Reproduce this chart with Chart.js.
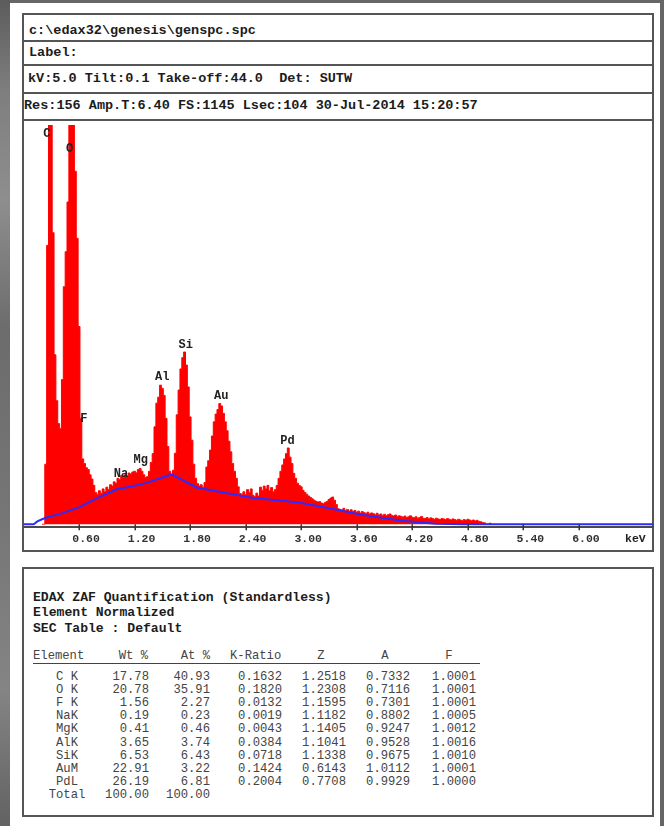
<!DOCTYPE html>
<html>
<head>
<meta charset="utf-8">
<script src="https://cdn.jsdelivr.net/npm/chart.js@4.4.1/dist/chart.umd.min.js"></script>
<style>
  html, body { margin: 0; padding: 0; }
  body { width: 664px; height: 826px; position: relative; overflow: hidden; background: #666; font-family: "Liberation Mono", monospace; }
  #edge { position: absolute; left: 0; top: 0; width: 10px; height: 826px;
    background: linear-gradient(180deg, #5c5c5c 0, #7e7e7e 90px, #8e8e8e 200px, #6c6c6c 330px, #767676 520px, #848484 690px, #626262 826px); }
  #sheet { position: absolute; left: 10px; top: 3px; width: 650px; height: 823px; background: #fff; }
  .box { position: absolute; border: 2px solid #555; box-sizing: border-box; }
  .rule { position: absolute; left: 22px; width: 632px; height: 2px; background: #555; }
  .hd { position: absolute; font-weight: bold; font-size: 13.5px; line-height: 16px; color: #1c1c1c; white-space: pre; }
  .ttl { position: absolute; left: 33px; font-weight: bold; font-size: 13.1px; line-height: 15px; color: #1c1c1c; white-space: pre; }
  .cell { position: absolute; font-size: 12.2px; line-height: 13px; color: #444; white-space: pre; }
  #plot { position: absolute; left: 22px; top: 120px; width: 632px; height: 431px; z-index: 2; }
  #unit { position: absolute; left: 625px; top: 532px; font-weight: bold; font-size: 11.5px; line-height: 14px; color: #222; z-index: 3; }
</style>
</head>
<body>
<div id="edge"></div>
<div id="sheet"></div>

<div class="box" style="left:22px;top:13px;width:632px;height:539px;"></div>
<div class="rule" style="top:40px;"></div>
<div class="rule" style="top:64px;"></div>
<div class="rule" style="top:92px;"></div>
<div class="rule" style="top:119px;"></div>

<div class="hd" style="left:29px;top:23px;">c:\edax32\genesis\genspc.spc</div>
<div class="hd" style="left:29px;top:45px;">Label:</div>
<div class="hd" style="left:28px;top:71px;">kV:5.0 Tilt:0.1 Take-off:44.0  Det: SUTW</div>
<div class="hd" style="left:24px;top:98px;">Res:156 Amp.T:6.40 FS:1145 Lsec:104 30-Jul-2014 15:20:57</div>

<div id="plot"><canvas id="spc"></canvas></div>
<div id="unit">keV</div>

<div class="box" style="left:22px;top:567px;width:632px;height:250px;"></div>
<div class="ttl" style="top:590px;">EDAX ZAF Quantification (Standardless)</div>
<div class="ttl" style="top:605px;">Element Normalized</div>
<div class="ttl" style="top:621px;">SEC Table : Default</div>
<div id="table"></div>

<script>
// Spectrum channels (keV) and measured counts
const channelKeV = [
  0.20,0.22,0.24,0.26,0.28,0.30,0.32,0.34,0.36,0.38,
  0.40,0.42,0.44,0.46,0.48,0.50,0.52,0.54,0.56,0.58,
  0.60,0.62,0.64,0.66,0.68,0.70,0.72,0.74,0.76,0.78,
  0.80,0.82,0.84,0.86,0.88,0.90,0.92,0.94,0.96,0.98,
  1.00,1.02,1.04,1.06,1.08,1.10,1.12,1.14,1.16,1.18,
  1.20,1.22,1.24,1.26,1.28,1.30,1.32,1.34,1.36,1.38,
  1.40,1.42,1.44,1.46,1.48,1.50,1.52,1.54,1.56,1.58,
  1.60,1.62,1.64,1.66,1.68,1.70,1.72,1.74,1.76,1.78,
  1.80,1.82,1.84,1.86,1.88,1.90,1.92,1.94,1.96,1.98,
  2.00,2.02,2.04,2.06,2.08,2.10,2.12,2.14,2.16,2.18,
  2.20,2.22,2.24,2.26,2.28,2.30,2.32,2.34,2.36,2.38,
  2.40,2.42,2.44,2.46,2.48,2.50,2.52,2.54,2.56,2.58,
  2.60,2.62,2.64,2.66,2.68,2.70,2.72,2.74,2.76,2.78,
  2.80,2.82,2.84,2.86,2.88,2.90,2.92,2.94,2.96,2.98,
  3.00,3.02,3.04,3.06,3.08,3.10,3.12,3.14,3.16,3.18,
  3.20,3.22,3.24,3.26,3.28,3.30,3.32,3.34,3.36,3.38,
  3.40,3.42,3.44,3.46,3.48,3.50,3.52,3.54,3.56,3.58,
  3.60,3.62,3.64,3.66,3.68,3.70,3.72,3.74,3.76,3.78,
  3.80,3.82,3.84,3.86,3.88,3.90,3.92,3.94,3.96,3.98,
  4.00,4.02,4.04,4.06,4.08,4.10,4.12,4.14,4.16,4.18,
  4.20,4.22,4.24,4.26,4.28,4.30,4.32,4.34,4.36,4.38,
  4.40,4.42,4.44,4.46,4.48,4.50,4.52,4.54,4.56,4.58,
  4.60,4.62,4.64,4.66,4.68,4.70,4.72,4.74,4.76,4.78,
  4.80,4.82,4.84,4.86,4.88,4.90,4.92,4.94,4.96,4.98,
  5.00,5.02,5.04,5.06
];
const spectrumCounts = [
  0, 0, 170, 790, 1400, 1400, 826, 480, 350, 285,
  271, 410, 673, 772, 913, 1400, 1400, 1400, 1000, 810,
  560, 300, 185, 172, 160, 155, 140, 128, 110, 90,
  85, 95, 88, 100, 92, 105, 98, 112, 108, 120,
  115, 130, 126, 138, 132, 140, 136, 145, 142, 148,
  150, 146, 155, 158, 150, 140, 132, 135, 150, 175,
  200, 276, 343, 360, 394, 385, 365, 300, 220, 150,
  140, 153, 201, 310, 380, 440, 472, 488, 451, 389,
  304, 238, 170, 130, 115, 108, 112, 105, 118, 162,
  180, 210, 250, 290, 312, 325, 342, 335, 314, 290,
  265, 235, 205, 172, 150, 130, 106, 87, 85, 92,
  84, 98, 90, 100, 82, 78, 88, 80, 105, 96,
  108, 100, 110, 95, 104, 92, 98, 110, 130, 150,
  168, 185, 200, 216, 190, 172, 144, 130, 116, 110,
  106, 96, 90, 85, 80, 76, 72, 68, 65, 63,
  64, 60, 58, 62, 64, 70, 74, 77, 68, 56,
  44, 42, 40, 45, 39, 42, 37, 41, 36, 39,
  34, 37, 32, 36, 33, 30, 34, 29, 32, 30,
  27, 31, 26, 29, 25, 28, 24, 27, 29, 25,
  23, 26, 22, 24, 22, 20, 23, 19, 21, 24,
  20, 18, 21, 17, 19, 22, 17, 16, 19, 15,
  18, 16, 14, 17, 15, 13, 16, 15, 13, 16,
  14, 12, 15, 13, 11, 14, 12, 10, 13, 11,
  14, 12, 10, 12, 9, 11, 8, 7, 5, 4,
  0, 0, 3, 0
];

// Fitted bremsstrahlung background
const backgroundKeV    = [0, 0.11, 0.15, 0.20, 0.25, 0.43, 0.61, 0.79, 1.01, 1.15, 1.33, 1.60, 1.87, 2.48, 2.85, 3.00, 3.29, 3.65, 4.09, 4.45, 4.75, 6.80];
const backgroundCounts = [0, 0, 8, 14, 19, 32, 49, 73, 99, 106, 117, 141, 104, 74, 65, 60, 46, 27, 10, 1, 0, 0];

// Peak identification: element, line energy (keV), label height (counts)
const peakElements = ['C', 'O', 'F', 'Na', 'Mg', 'Al', 'Si', 'Au', 'Pd'];
const peakKeV      = [0.277, 0.525, 0.677, 1.041, 1.254, 1.486, 1.740, 2.123, 2.838];
const peakLabelAt  = [1105, 1062, 297, 142, 183, 416, 507, 363, 236];

// Energy axis ticks
const tickKeV    = [0.6, 1.2, 1.8, 2.4, 3.0, 3.6, 4.2, 4.8, 5.4, 6.0];
const tickLabels = ['0.60', '1.20', '1.80', '2.40', '3.00', '3.60', '4.20', '4.80', '5.40', '6.00'];

// Quantification results
const elementNames = ['C K', 'O K', 'F K', 'NaK', 'MgK', 'AlK', 'SiK', 'AuM', 'PdL', 'Total'];
const weightPct = ['17.78', '20.78', '1.56', '0.19', '0.41', '3.65', '6.53', '22.91', '26.19', '100.00'];
const atomicPct = ['40.93', '35.91', '2.27', '0.23', '0.46', '3.74', '6.43', '3.22', '6.81', '100.00'];
const kRatio    = ['0.1632', '0.1820', '0.0132', '0.0019', '0.0043', '0.0384', '0.0718', '0.1424', '0.2004'];
const zFactor   = ['1.2518', '1.2308', '1.1595', '1.1182', '1.1405', '1.1041', '1.1338', '0.6143', '0.7708'];
const aFactor   = ['0.7332', '0.7116', '0.7301', '0.8802', '0.9247', '0.9528', '0.9675', '1.0112', '0.9929'];
const fFactor   = ['1.0001', '1.0001', '1.0001', '1.0005', '1.0012', '1.0016', '1.0010', '1.0001', '1.0000'];

// ---- quantification table ----
(function buildTable() {
  const host = document.getElementById('table');
  const add = (text, top, opts) => {
    const d = document.createElement('div');
    d.className = 'cell';
    d.textContent = text;
    d.style.top = top + 'px';
    if (opts.right !== undefined) { d.style.left = (opts.right - 300) + 'px'; d.style.width = '300px'; d.style.textAlign = 'right'; }
    if (opts.center !== undefined) { d.style.left = (opts.center - 50) + 'px'; d.style.width = '100px'; d.style.textAlign = 'center'; }
    if (opts.left !== undefined) { d.style.left = opts.left + 'px'; }
    host.appendChild(d);
  };
  const headTop = 650;
  add('Element', headTop, { left: 33 });
  add('Wt %', headTop, { right: 148 });
  add('At %', headTop, { right: 210 });
  add('K-Ratio', headTop, { left: 230 });
  add('Z', headTop, { center: 321 });
  add('A', headTop, { center: 385 });
  add('F', headTop, { center: 449 });
  const line = document.createElement('div');
  line.style.cssText = 'position:absolute;left:33px;top:663px;width:447px;height:1px;background:#444;';
  host.appendChild(line);

  const cols = [weightPct, atomicPct, kRatio, zFactor, aFactor, fFactor];
  const rights = [149, 210, 282, 346, 410, 476];
  elementNames.forEach((name, i) => {
    const top = 671 + i * 13.1;
    add(name, top, { center: 67 });
    cols.forEach((col, c) => { if (col[i] !== undefined) add(col[i], top, { right: rights[c] }); });
  });
})();

// ---- spectrum plot ----
Chart.defaults.font.family = '"Liberation Mono", monospace';

const peakLabelPlugin = {
  id: 'peakLabels',
  afterDatasetsDraw(chart) {
    const { ctx, scales: { x, y } } = chart;
    ctx.save();
    ctx.font = 'bold 12px "Liberation Mono", monospace';
    ctx.fillStyle = '#222';
    ctx.textAlign = 'left';
    ctx.textBaseline = 'middle';
    peakElements.forEach((el, i) => {
      ctx.fillText(el, x.getPixelForValue(peakKeV[i]) - 6, y.getPixelForValue(peakLabelAt[i]));
    });
    ctx.restore();
  }
};

const tickMarkPlugin = {
  id: 'tickMarks',
  afterDraw(chart) {
    const { ctx, scales: { x }, chartArea } = chart;
    ctx.save();
    ctx.strokeStyle = '#333';
    ctx.lineWidth = 1.5;
    tickKeV.forEach(v => {
      const px = Math.round(x.getPixelForValue(v)) + 0.25;
      ctx.beginPath();
      ctx.moveTo(px, chartArea.bottom - 3);
      ctx.lineTo(px, chartArea.bottom + 3);
      ctx.stroke();
    });
    ctx.restore();
  }
};

new Chart(document.getElementById('spc'), {
  type: 'line',
  data: {
    datasets: [
      {
        label: 'Background',
        data: backgroundKeV.map((e, i) => ({ x: e, y: backgroundCounts[i] })),
        borderColor: '#2b2bff',
        borderWidth: 2,
        pointRadius: 0,
        fill: false,
        tension: 0,
        order: 0
      },
      {
        label: 'Spectrum',
        data: channelKeV.map((e, i) => ({ x: e, y: spectrumCounts[i] })),
        stepped: 'middle',
        borderColor: '#ff0000',
        borderWidth: 1,
        backgroundColor: '#ff0000',
        fill: 'origin',
        pointRadius: 0,
        order: 1
      }
    ]
  },
  options: {
    responsive: true,
    maintainAspectRatio: false,
    animation: false,
    devicePixelRatio: 1,
    layout: { padding: { left: 1.5, right: 1, top: 5, bottom: 0 } },
    plugins: { legend: { display: false }, tooltip: { enabled: false } },
    scales: {
      x: {
        type: 'linear',
        min: 0,
        max: 6.8,
        grid: { display: false, drawTicks: false },
        border: { display: true, color: '#4a4a4a', width: 2 },
        afterBuildTicks: axis => { axis.ticks = tickKeV.map(v => ({ value: v })); },
        ticks: {
          autoSkip: false,
          maxRotation: 0,
          padding: 5,
          labelOffset: 7,
          color: '#333',
          font: { size: 11.5, weight: 'bold' },
          callback: (value, index) => tickLabels[index]
        }
      },
      y: {
        type: 'linear',
        min: -8.5,
        max: 1131,
        display: false
      }
    }
  },
  plugins: [peakLabelPlugin, tickMarkPlugin]
});
</script>
</body>
</html>
